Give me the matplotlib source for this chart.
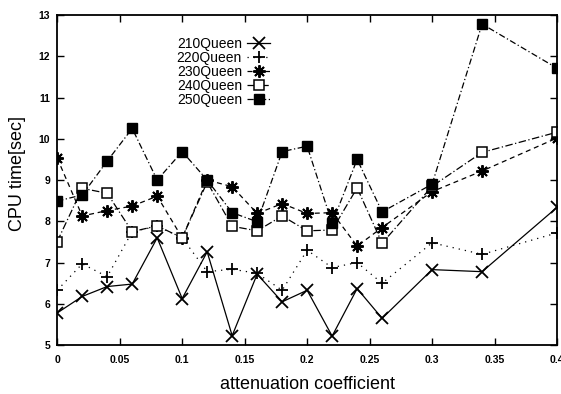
import matplotlib
matplotlib.use("Agg")
import matplotlib.pyplot as plt

plt.rcParams['font.family'] = ['Liberation Sans', 'DejaVu Sans']

# data
x = [0, 0.02, 0.04, 0.06, 0.08, 0.10, 0.12, 0.14, 0.16, 0.18, 0.20, 0.22, 0.24, 0.26, 0.30, 0.34, 0.40]
q210 = [5.78, 6.18, 6.42, 6.48, 7.60, 6.13, 7.26, 5.23, 6.72, 6.05, 6.33, 5.22, 6.37, 5.65, 6.83, 6.78, 8.34]
q220 = [6.33, 6.97, 6.66, 7.75, 7.88, 7.60, 6.78, 6.84, 6.74, 6.33, 7.30, 6.88, 7.00, 6.50, 7.48, 7.20, 7.72]
q230 = [9.53, 8.13, 8.26, 8.37, 8.61, 7.60, 9.00, 8.84, 8.19, 8.43, 8.19, 8.21, 7.40, 7.85, 8.72, 9.22, 10.02]
q240 = [7.51, 8.80, 8.68, 7.75, 7.89, 7.60, 8.95, 7.88, 7.77, 8.13, 7.77, 7.79, 8.81, 7.47, 8.85, 9.67, 10.16]
q250 = [8.49, 8.64, 9.46, 10.25, 9.00, 9.69, 9.00, 8.21, 7.99, 9.69, 9.82, 7.95, 9.50, 8.23, 8.90, 12.78, 11.71]
labels = ["210Queen", "220Queen", "230Queen", "240Queen", "250Queen"]
xticks = [0, 0.05, 0.1, 0.15, 0.2, 0.25, 0.3, 0.35, 0.4]
xticklabels = ["0", "0.05", "0.1", "0.15", "0.2", "0.25", "0.3", "0.35", "0.4"]
yticks = [5, 6, 7, 8, 9, 10, 11, 12, 13]

fig = plt.figure(figsize=(5.61, 3.94), dpi=100)
ax = fig.add_axes([0.102, 0.124, 0.891, 0.838])

k = dict(color='black', linewidth=0.9)
ax.plot(x, q210, linestyle='-', marker='x', markersize=8, markeredgewidth=1.3, label=labels[0], **k)
ax.plot(x, q220, linestyle=(0, (1, 4)), marker='+', markersize=9, markeredgewidth=1.3, label=labels[1], **k)
ax.plot(x, q230, linestyle=(0, (4, 3)), marker=(8, 2, 0), markersize=9, markeredgewidth=1.4, label=labels[2], **k)
ax.plot(x, q240, linestyle=(0, (6, 2, 1, 2)), marker='s', markersize=7, markerfacecolor='white',
        markeredgewidth=1.1, label=labels[3], **k)
ax.plot(x, q250, linestyle=(0, (5, 2, 1, 2)), marker='s', markersize=7, markerfacecolor='black',
        label=labels[4], **k)

ax.set_xlim(0, 0.4)
ax.set_ylim(5, 13)
ax.set_xticks(xticks)
ax.set_xticklabels(xticklabels)
ax.set_yticks(yticks)
ax.tick_params(direction='in', top=True, right=True, length=5, width=1.0, labelsize=7.5)
for lab in ax.get_xticklabels() + ax.get_yticklabels():
    lab.set_fontweight('bold')
ax.tick_params(axis='x', pad=7)
ax.tick_params(axis='y', pad=5)
for s in ax.spines.values():
    s.set_linewidth(1.3)

ax.set_xlabel("attenuation coefficient", fontsize=13, labelpad=8)
ax.set_ylabel("CPU time[sec]", fontsize=13)
ax.yaxis.set_label_coords(-0.062, 0.52)

leg = ax.legend(loc='upper left', bbox_to_anchor=(0.225, 0.955), frameon=False, markerfirst=False,
                fontsize=10, labelspacing=0.0, handlelength=1.6, handletextpad=0.4, borderpad=0)

fig.savefig("out.png", dpi=100)
